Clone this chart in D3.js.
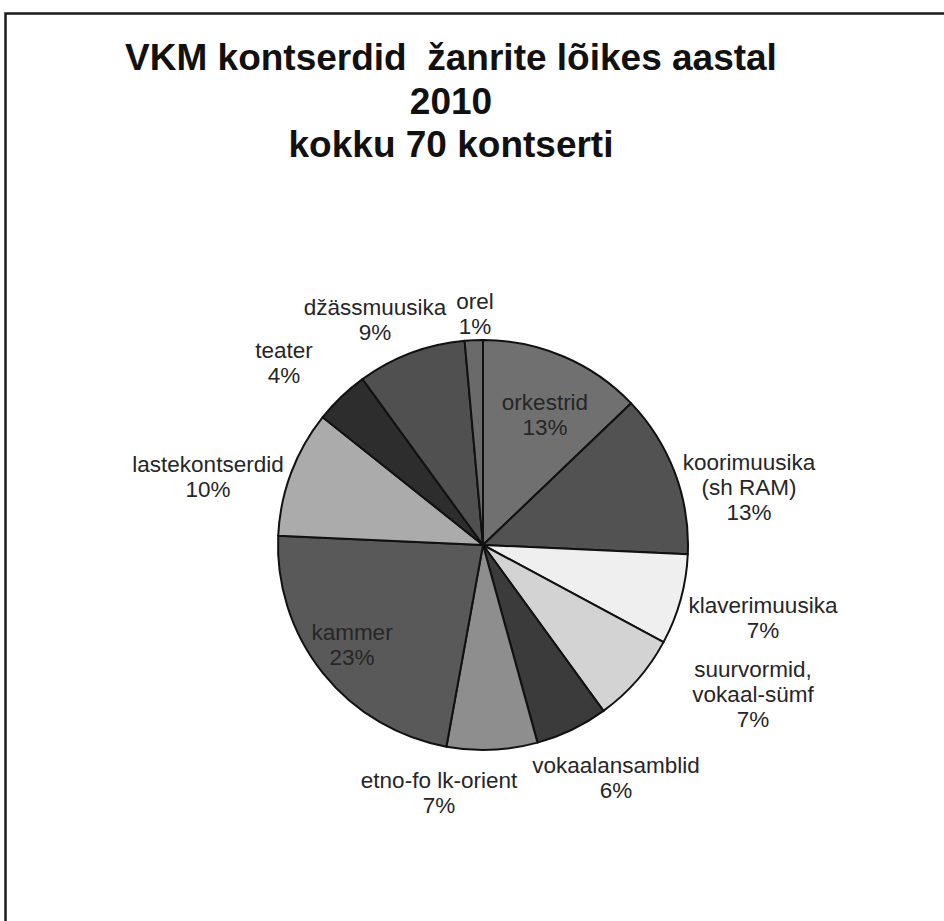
<!DOCTYPE html>
<html>
<head>
<meta charset="utf-8">
<script src="https://cdn.jsdelivr.net/npm/d3@7"></script>
<style>
	body { margin: 0; background: #fff; }
	svg { display: block; font-family: "Liberation Sans", Arial, sans-serif; }
	.title { white-space: pre; }
</style>
</head>
<body>
<div id="chart"></div>
<script>
// data (70 concerts in total)
const genres = ['orkestrid', 'koorimuusika\n(sh RAM)', 'klaverimuusika', 'suurvormid,\nvokaal-sümf', 'vokaalansamblid',
	'etno-fo lk-orient', 'kammer', 'lastekontserdid', 'teater', 'džässmuusika', 'orel'];
const concerts = [9, 9, 5, 5, 4, 5, 16, 7, 3, 6, 1];
const titleLines = ['VKM kontserdid  žanrite lõikes aastal', '2010', 'kokku 70 kontserti'];

// styling
const fills = ['#707070', '#525252', '#efefef', '#d3d3d3', '#3b3b3b', '#8e8e8e', '#595959', '#ababab', '#2d2d2d', '#505050', '#6a6a6a'];
// label anchor offsets from the pie centre (x, first baseline), placed by hand like in the original
const labelAt = [[62, -135], [266, -75], [280, 68], [270, 132], [133, 228], [-44, 243], [-131, 95], [-275, -73], [-199, -187], [-108, -230], [-8, -236]];

const W = 944, H = 921;
const cx = 483, cy = 545, R = 205;

const svg = d3.select('#chart')
	.append('svg')
	.attr('width', W).attr('height', H);

// frame (runs off the right and bottom edge)
svg.append('rect')
	.attr('x', 5.5).attr('y', 13.5)
	.attr('width', W + 20).attr('height', H + 20)
	.style('fill', 'none')
	.style('stroke', '#1a1a1a')
	.style('stroke-width', 2.5);

// title
svg.append('g')
	.selectAll('text')
	.data(titleLines)
	.enter()
	.append('text')
	.attr('class', 'title')
	.attr('x', 451)
	.attr('y', function(d, i){ return 70 + i * 43.5 })
	.attr('text-anchor', 'middle')
	.style('font-size', '37px')
	.style('font-weight', 'bold')
	.style('fill', '#111')
	.text(function(d){ return d });

const total = d3.sum(concerts);
const rows = genres.map(function(g, i){
	return {name: g, value: concerts[i], pct: Math.round(concerts[i] / total * 100) + '%', i: i};
});

const pie = d3.pie()
	.sort(null)
	.value(function(d){ return d.value });

const arc = d3.arc()
	.innerRadius(0)
	.outerRadius(R);

const plot = svg.append('g')
	.attr('transform', `translate(${cx}, ${cy})`);

plot.selectAll('.slice')
	.data(pie(rows))
	.enter()
	.append('path')
	.attr('class', 'slice')
	.attr('d', arc)
	.style('fill', function(d){ return fills[d.data.i] })
	.style('stroke', '#111')
	.style('stroke-width', 2)
	.style('stroke-linejoin', 'round');

// labels: name lines + percentage
const labels = plot.selectAll('.label')
	.data(rows)
	.enter()
	.append('text')
	.attr('class', 'label')
	.attr('text-anchor', 'middle')
	.attr('transform', function(d){ return `translate(${labelAt[d.i][0]}, ${labelAt[d.i][1]})` })
	.style('font-size', '22.5px')
	.style('fill', '#262626');

labels.selectAll('tspan')
	.data(function(d){ return d.name.split('\n').concat([d.pct]) })
	.enter()
	.append('tspan')
	.attr('x', 0)
	.attr('y', function(d, i){ return i * 25 })
	.text(function(d){ return d });
</script>
</body>
</html>
